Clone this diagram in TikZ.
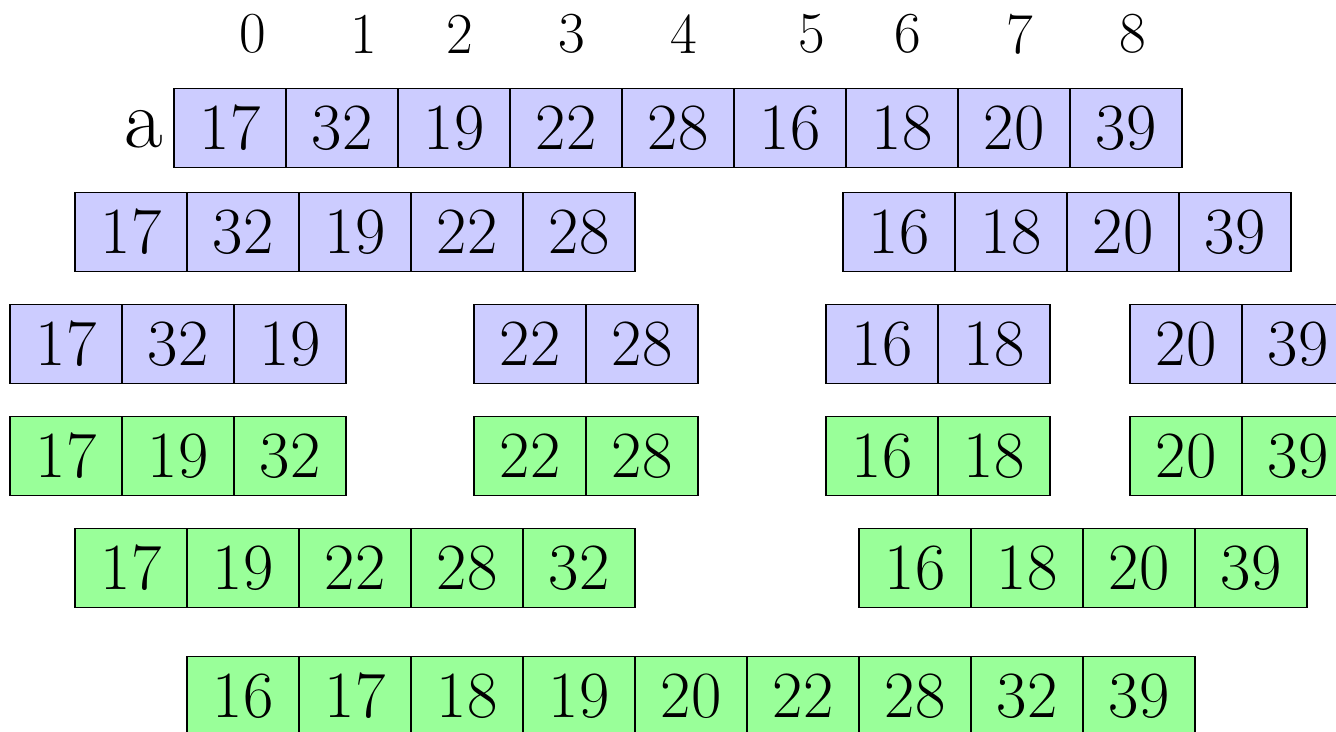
\documentclass[tikz,border=0pt]{standalone}
\usepackage{tikz}
\usetikzlibrary{positioning}
\definecolor{splitcol}{HTML}{CCCCFF}
\definecolor{mergecol}{HTML}{99FF99}

\begin{document}
\begin{tikzpicture}[
  x=1pt, y=-1pt,
  cell/.style={rectangle, draw=black, line width=1.6pt, fill=#1,
               minimum width=112pt, minimum height=79pt, inner sep=0pt,
               font=\fontsize{66}{66}\selectfont},
  idx/.style={font=\fontsize{58}{58}\selectfont, inner sep=0pt},
  lab/.style={font=\fontsize{84}{84}\selectfont, inner sep=0pt}
]
\useasboundingbox (0,0) rectangle (1336,731);

% ---- indices ----
\foreach \k/\x in {0/253,1/364,2/460,3/572,4/684,5/812,6/908,7/1020,8/1133}
  \node[idx] (i\k) at (\x,34) {\k};

% ---- arrays: name / colour / left / top / values ----
\foreach \nm/\col/\x/\y/\vals in {
    a/splitcol/174/88/{17,32,19,22,28,16,18,20,39},
    sl/splitcol/75/192/{17,32,19,22,28},
    sr/splitcol/843/192/{16,18,20,39},
    sll/splitcol/10/304/{17,32,19},
    slr/splitcol/474/304/{22,28},
    srl/splitcol/826/304/{16,18},
    srr/splitcol/1130/304/{20,39},
    mll/mergecol/10/416/{17,19,32},
    mlr/mergecol/474/416/{22,28},
    mrl/mergecol/826/416/{16,18},
    mrr/mergecol/1130/416/{20,39},
    ml/mergecol/75/528/{17,19,22,28,32},
    mr/mergecol/859/528/{16,18,20,39},
    m/mergecol/187/656/{16,17,18,19,20,22,28,32,39}}
  \foreach \v [count=\i] in \vals
    \node[cell=\col] (\nm\i) at ({\x+56+112*(\i-1)},{\y+40}) {\v};

% ---- array name ----
\node[lab, anchor=base east] (aname) at (163,147) {a};
\end{tikzpicture}
\end{document}
